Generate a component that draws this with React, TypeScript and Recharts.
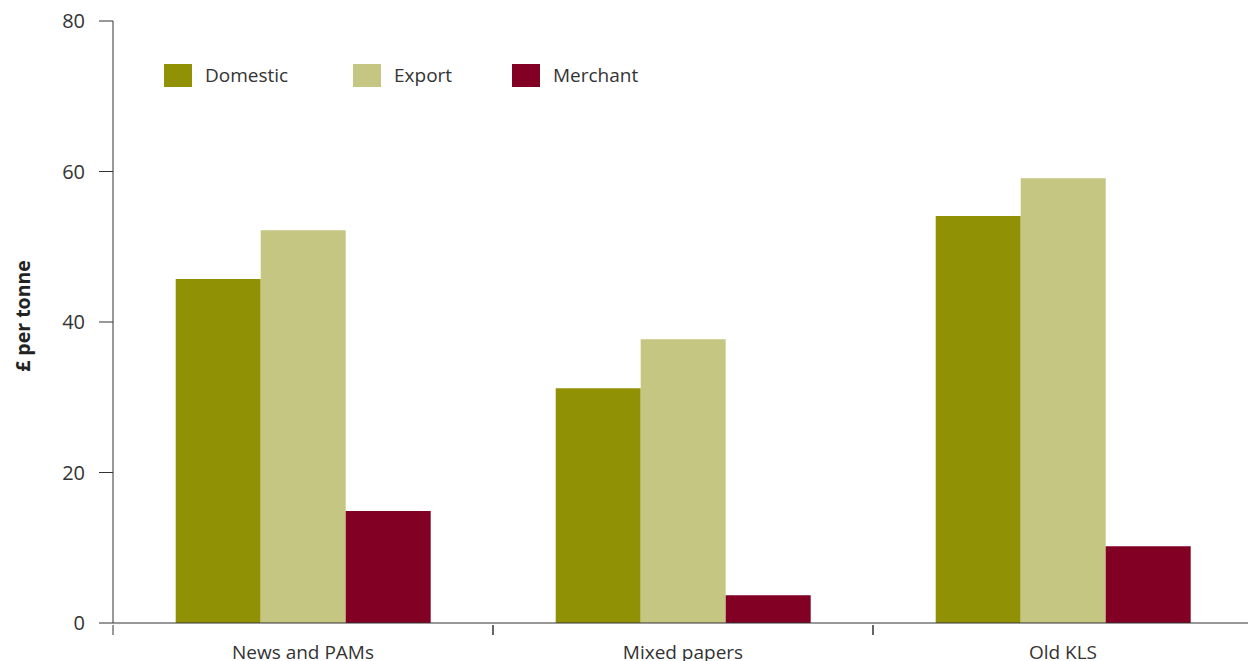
import React from "react";
import { Bar, BarChart, XAxis, YAxis } from "recharts";

const categories = ["News and PAMs", "Mixed papers", "Old KLS"];
const domestic = [45.7, 31.2, 54.1];
const exportValues = [52.2, 37.7, 59.1];
const merchant = [14.9, 3.7, 10.2];
const yTicks = [0, 20, 40, 60, 80];

const seriesInfo = [
  { key: "domestic", name: "Domestic", color: "#919106" },
  { key: "export", name: "Export", color: "#c6c683" },
  { key: "merchant", name: "Merchant", color: "#820024" }
];

const data = categories.map((name, i) => ({
  name,
  domestic: domestic[i],
  export: exportValues[i],
  merchant: merchant[i]
}));

const FONT = "'Open Sans', 'Noto Sans', sans-serif";
const CHART_W = 1253;
const PLOT_LEFT = 113;
const HALF_BAND = (CHART_W - PLOT_LEFT) / categories.length / 2;

function CategoryTick(props: any) {
  const { x, y, payload } = props;
  // y arrives a few px below the axis line
  const axisY = y - 6;
  return (
    <g>
      <line x1={x - HALF_BAND} y1={axisY} x2={x - HALF_BAND} y2={axisY + 10} stroke="#333" strokeWidth={1} />
      <line x1={x + HALF_BAND} y1={axisY} x2={x + HALF_BAND} y2={axisY + 10} stroke="#333" strokeWidth={1} />
      <text x={x} y={axisY + 34} textAnchor="middle" fontSize={19} fontFamily={FONT} fill="#333">
        {payload.value}
      </text>
    </g>
  );
}

function YLabel(props: any) {
  const vb = props.viewBox || {};
  const cx = 22;
  const cy = (vb.y ?? 21) + (vb.height ?? 602) / 2 - 6;
  return (
    <text
      transform={`translate(${cx},${cy}) rotate(-90)`}
      textAnchor="middle"
      dominantBaseline="central"
      fontSize={19.5}
      fontWeight={700}
      fontFamily={FONT}
      fill="#222"
    >
      £ per tonne
    </text>
  );
}

function LegendBox() {
  const xs = [164, 353, 512];
  return (
    <div style={{ position: "absolute", left: 0, top: 63, height: 23 }}>
      {seriesInfo.map((s, i) => (
        <div
          key={s.key}
          style={{ position: "absolute", left: xs[i], top: 0, display: "flex", alignItems: "center", whiteSpace: "nowrap" }}
        >
          <span style={{ display: "inline-block", width: 28, height: 23, background: s.color }} />
          <span style={{ marginLeft: 13, fontSize: 19, lineHeight: "25px", fontFamily: FONT, color: "#333" }}>{s.name}</span>
        </div>
      ))}
    </div>
  );
}

export default function App() {
  return (
    <div
      style={{
        position: "absolute",
        left: 0,
        top: 0,
        width: 1248,
        height: 661,
        overflow: "hidden",
        background: "#fff"
      }}
    >
      <BarChart
        width={CHART_W}
        height={661}
        data={data}
        margin={{ top: 21, right: 0, bottom: 0, left: 0 }}
        barCategoryGap="16.5%"
        barGap={0}
      >
        <XAxis
          dataKey="name"
          height={38}
          stroke="#333"
          tickLine={false}
          interval={0}
          tick={<CategoryTick />}
        />
        <YAxis
          width={PLOT_LEFT}
          domain={[0, 80]}
          ticks={yTicks}
          stroke="#333"
          tickSize={14}
          tickMargin={14}
          tick={{ fontSize: 20, fontFamily: FONT, fill: "#333" }}
          label={<YLabel />}
        />
        {seriesInfo.map((s) => (
          <Bar key={s.key} dataKey={s.key} name={s.name} fill={s.color} isAnimationActive={false} />
        ))}
      </BarChart>
      <LegendBox />
    </div>
  );
}
